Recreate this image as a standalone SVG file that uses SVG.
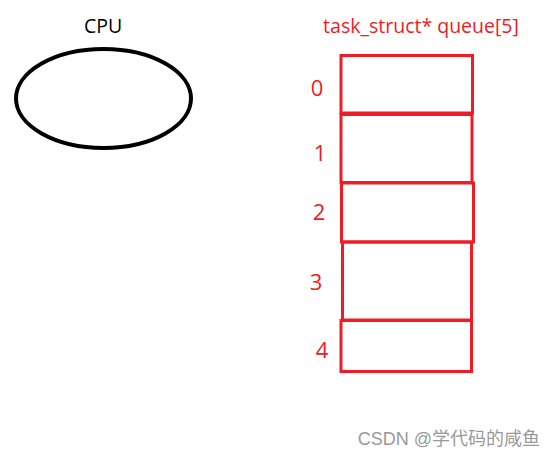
<svg xmlns="http://www.w3.org/2000/svg" width="558" height="458" viewBox="0 0 558 458">
<style>
.lbl{font-family:"Open Sans","Liberation Sans",sans-serif;fill:#ee1c24}
.cell{fill:none;stroke:#ee1c24;stroke-width:3}
.idx{font-size:22px;text-anchor:middle}
</style>
<rect width="558" height="458" fill="#fff"/>
<g id="cpu">
<ellipse cx="103.5" cy="98.5" rx="87.5" ry="49.5" fill="none" stroke="#000" stroke-width="4"/>
<text x="103" y="33" font-family="'Open Sans','Liberation Sans',sans-serif" font-size="19.5" text-anchor="middle" fill="#000">CPU</text>
</g>
<g id="queue">
<text class="lbl" x="421" y="33" font-size="19.5" text-anchor="middle">task_struct* queue[5]</text>
<g id="cell0"><rect class="cell" x="341" y="55.5" width="131.5" height="57.5"/><text class="lbl idx" x="317" y="96">0</text></g>
<g id="cell1"><rect class="cell" x="341" y="114.5" width="131" height="68"/><text class="lbl idx" x="320" y="161">1</text></g>
<g id="cell2"><rect class="cell" x="341.5" y="183" width="132" height="59"/><text class="lbl idx" x="319" y="220">2</text></g>
<g id="cell3"><rect class="cell" x="342.5" y="242" width="129" height="78" stroke-width="4"/><text class="lbl idx" x="316" y="290">3</text></g>
<g id="cell4"><rect class="cell" x="341" y="320.5" width="130.5" height="51"/><text class="lbl idx" x="322" y="358">4</text></g>
</g>
<text x="540" y="445" font-family="'Liberation Sans','Noto Sans CJK SC',sans-serif" font-size="18" text-anchor="end" fill="#999">CSDN @学代码的咸鱼</text>
</svg>
